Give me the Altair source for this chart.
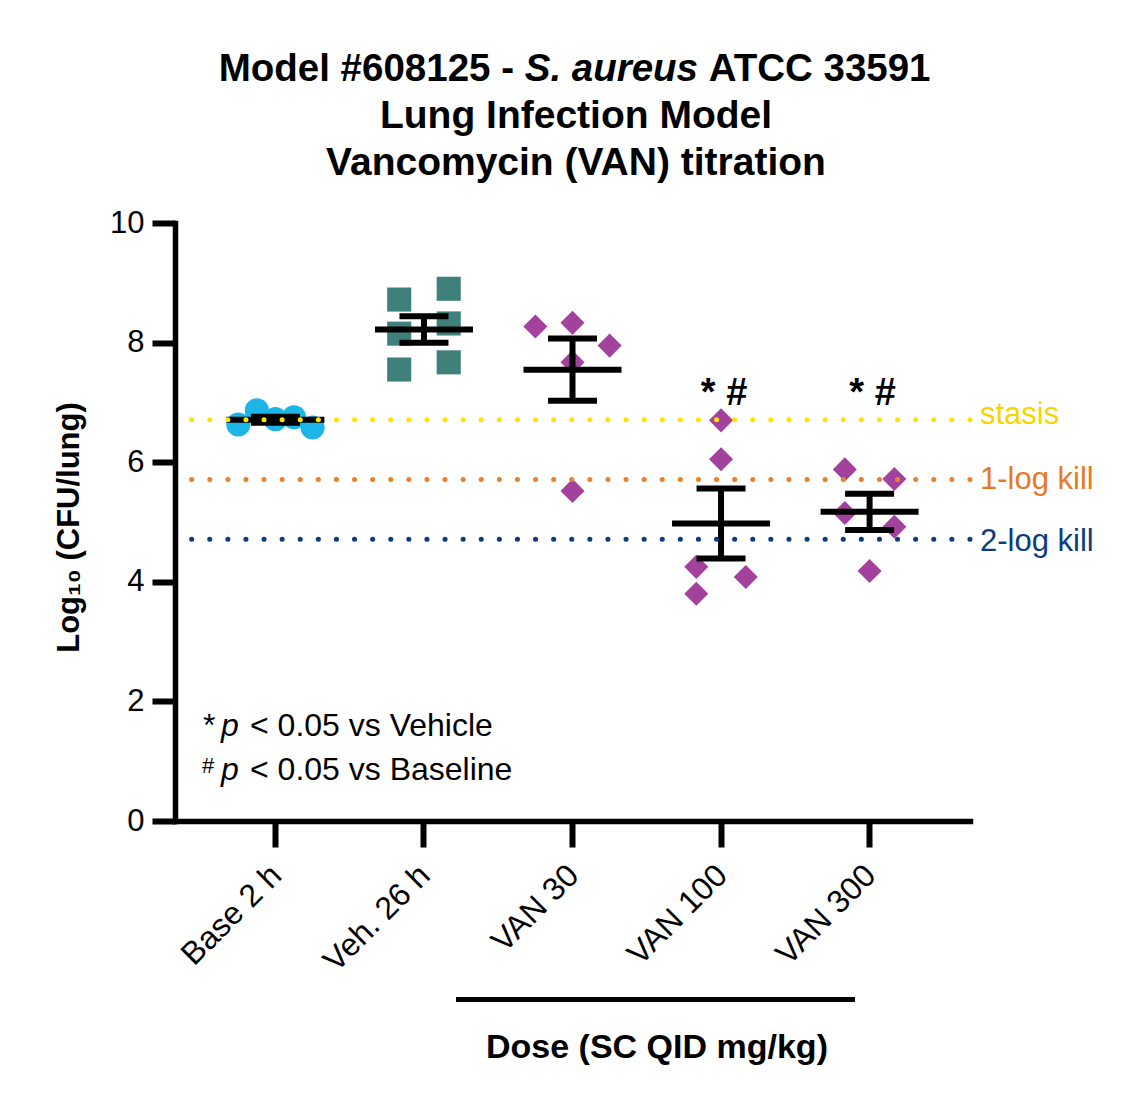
import altair as alt
import pandas as pd
import numpy as np

FONT = "Liberation Sans"

# ---------------- data ----------------
groups = ["Base 2 h", "Veh. 26 h", "VAN 30", "VAN 100", "VAN 300"]

base_vals = [6.63, 6.87, 6.72, 6.75, 6.58]
base_slot = [-3, -1.5, 0, 1.5, 3]
veh_vals = [8.72, 8.90, 8.15, 8.32, 7.55, 7.67]
veh_slot = [-2, 2, -2, 2, -2, 2]
van30_vals = [8.27, 8.33, 7.95, 7.67, 5.52]
van30_slot = [-3, 0, 3, 0, 0]
van100_vals = [6.70, 6.05, 4.25, 4.08, 3.80]
van100_slot = [0, 0, -2, 2, -2]
van300_vals = [5.88, 5.72, 5.15, 4.92, 4.18]
van300_slot = [-2, 2, -2, 2, 0]

ref_values = [6.71, 5.71, 4.71]
ref_labels = ["stasis", "1-log kill", "2-log kill"]

sig_groups = ["VAN 100", "VAN 300"]
sig_text = ["* #", "* #"]
sig_y = [6.95, 6.95]

y_ticks = [0, 2, 4, 6, 8, 10]

# ---------------- styles ----------------
point_colors = ["#1DB4E7", "#3F807B", "#A3429C", "#A3429C", "#A3429C"]
point_shapes = ["circle", "square", "diamond", "diamond", "diamond"]
ref_line_colors = ["#FFE400", "#E9822B", "#0C3B7E"]
ref_text_colors = ["#F8D400", "#E8791F", "#0C3B7E"]
ref_text_dy = [4, 9, 12]

# ---------------- tables ----------------
all_vals = [base_vals, veh_vals, van30_vals, van100_vals, van300_vals]
all_slots = [base_slot, veh_slot, van30_slot, van100_slot, van300_slot]
rows = []
for g, vals, slots in zip(groups, all_vals, all_slots):
    for v, s in zip(vals, slots):
        rows.append({"group": g, "value": v, "slot": s})
pts = pd.DataFrame(rows)

stats = pts.groupby("group", sort=False)["value"].agg(["mean", "std", "count"]).reset_index()
stats["sem"] = stats["std"] / np.sqrt(stats["count"])
stats["lo"] = stats["mean"] - stats["sem"]
stats["hi"] = stats["mean"] + stats["sem"]
caps = pd.concat([
    pd.DataFrame({"group": stats["group"], "v": stats["lo"]}),
    pd.DataFrame({"group": stats["group"], "v": stats["hi"]}),
])

sig = pd.DataFrame({"group": sig_groups, "t": sig_text, "y": sig_y})

W, H = 795, 598

xscale = alt.Scale(type="band", domain=groups, paddingInner=0, paddingOuter=0.176)
yscale = alt.Scale(domain=[0, 10], nice=False)

x_axis = alt.Axis(
    labelAngle=315, labelAlign="right", labelBaseline="alphabetic",
    labelOffset=8, labelPadding=30, labelFont=FONT, labelFontSize=32,
    labelColor="black", labelOverlap=False, tickSize=26, tickWidth=6,
    tickColor="black", domainColor="black", domainWidth=5.5,
    domainCap="square", grid=False,
)
y_axis = alt.Axis(
    values=y_ticks, format="d", grid=False, domainColor="black", domainWidth=5.5,
    domainCap="square", tickColor="black", tickWidth=6, tickSize=23,
    labelFont=FONT, labelFontSize=31, labelColor="black", labelPadding=8,
    title="Log₁₀ (CFU/lung)", titleFont=FONT, titleFontSize=31,
    titleFontWeight="bold", titleColor="black", titleX=-97, titleY=304,
    titleBaseline="alphabetic", titleAlign="center",
)

points = alt.Chart(pts).mark_point(filled=True, opacity=1, size=580).encode(
    x=alt.X("group:N", scale=xscale, axis=x_axis, title=None, sort=groups),
    xOffset=alt.XOffset("slot:Q", scale=alt.Scale(domain=[-6, 6])),
    y=alt.Y("value:Q", scale=yscale, axis=y_axis),
    color=alt.Color("group:N", scale=alt.Scale(domain=groups, range=point_colors), legend=None),
    shape=alt.Shape("group:N", scale=alt.Scale(domain=groups, range=point_shapes), legend=None),
)

xc = alt.X("group:N", scale=xscale, sort=groups, bandPosition=0.5)

stems = alt.Chart(stats).mark_rule(color="black", strokeWidth=6).encode(
    x=xc, y=alt.Y("lo:Q", scale=yscale), y2="hi:Q")
means = alt.Chart(stats).mark_tick(color="black", size=98, thickness=6, opacity=1).encode(
    x=xc, y=alt.Y("mean:Q", scale=yscale))
capm = alt.Chart(caps).mark_tick(color="black", size=49, thickness=6, opacity=1).encode(
    x=xc, y=alt.Y("v:Q", scale=yscale))

layers = [points, stems, means, capm]

for v, lab, lc, tc, dy in zip(ref_values, ref_labels, ref_line_colors, ref_text_colors, ref_text_dy):
    d = pd.DataFrame({"v": [v], "t": [lab]})
    layers.append(alt.Chart(d).mark_rule(strokeDash=[0.1, 18], strokeCap="round",
                                         strokeWidth=5, color=lc).encode(
        y=alt.Y("v:Q", scale=yscale)))
    layers.append(alt.Chart(d).mark_text(font=FONT, fontSize=31, align="left",
                                         baseline="alphabetic", dy=dy, color=tc).encode(
        y=alt.Y("v:Q", scale=yscale), x=alt.value(W + 10), text="t:N"))

layers.append(alt.Chart(sig).mark_text(font=FONT, fontSize=38, fontWeight="bold",
                                       baseline="alphabetic", dx=3, color="black").encode(
    x=xc, y=alt.Y("y:Q", scale=yscale), text="t:N"))


def label(text, x, y, size, weight="normal", style="normal", align="left", color="black"):
    return alt.Chart(pd.DataFrame({"t": [text]})).mark_text(
        font=FONT, fontSize=size, fontWeight=weight, fontStyle=style, align=align,
        baseline="alphabetic", color=color).encode(
        text="t:N", x=alt.value(x), y=alt.value(y))


# title
layers += [
    label("Model #608125 -", 43.7, -142, 38.5, weight="bold"),
    label("S. aureus", 349.7, -142, 38.5, weight="bold", style="italic"),
    label("ATCC 33591", 533.7, -142, 38.5, weight="bold"),
    label("Lung Infection Model", 401, -95, 39, weight="bold", align="center"),
    label("Vancomycin (VAN) titration", 401, -48, 39, weight="bold", align="center"),
]

# significance legend
layers += [
    label("*", 28, 513, 32),
    label("p", 46, 513, 32, style="italic"),
    label("< 0.05 vs Vehicle", 75, 513, 32),
    label("#", 27, 550, 22),
    label("p", 46, 557, 32, style="italic"),
    label("< 0.05 vs Baseline", 75, 557, 32),
]

# dose bracket
layers.append(alt.Chart(pd.DataFrame({"a": [0]})).mark_rule(color="black", strokeWidth=5).encode(
    x=alt.value(281), x2=alt.value(680), y=alt.value(776.5)))
layers.append(label("Dose (SC QID mg/kg)", 482, 835, 34, weight="bold", align="center"))

chart = alt.layer(*layers).properties(
    width=W, height=H,
    padding={"left": 167, "top": 215, "right": 150, "bottom": 270},
    autosize=alt.AutoSizeParams(type="none"),
    background="white",
).configure_view(stroke=None)

chart.save("out.html", embed_options={"renderer": "svg", "actions": False})
